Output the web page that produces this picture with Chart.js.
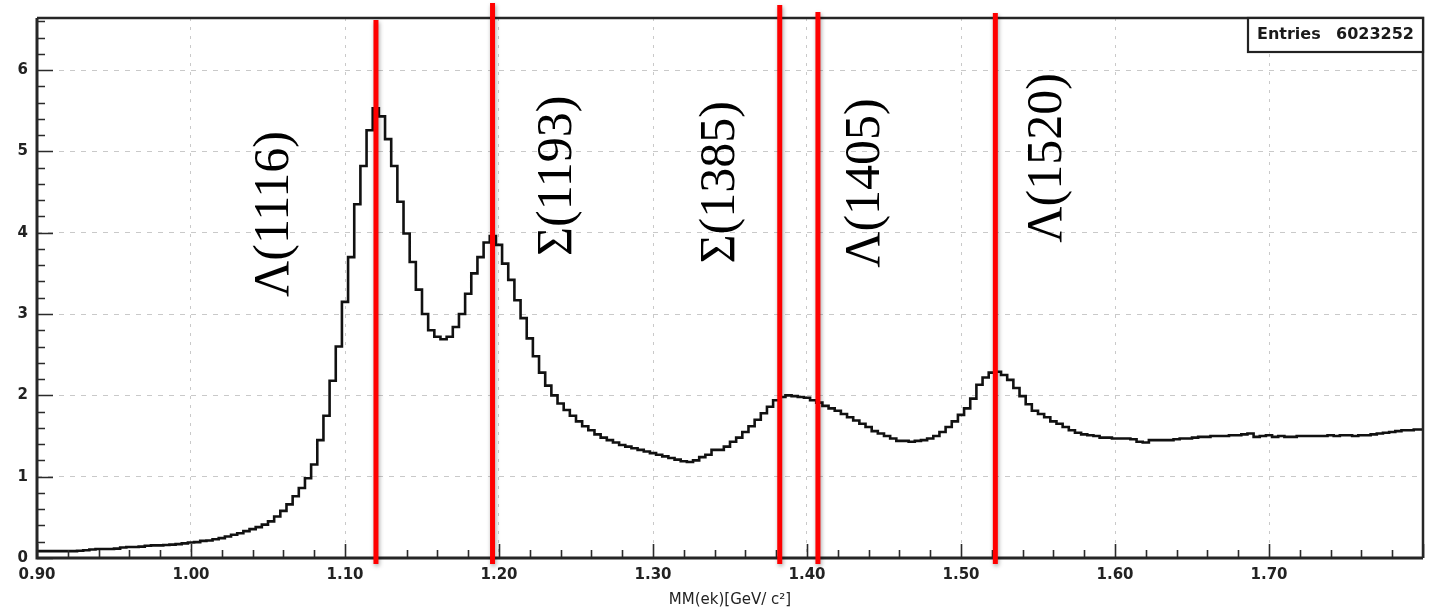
<!DOCTYPE html>
<html>
<head>
<meta charset="utf-8">
<script src="https://cdn.jsdelivr.net/npm/chart.js@4.4.1/dist/chart.umd.min.js"></script>
<style>
html,body{margin:0;padding:0;background:#fff;}
#wrap{width:1435px;height:612px;position:relative;}
</style>
</head>
<body>
<div id="wrap"><canvas id="c" width="1435" height="612"></canvas></div>
<script>
// ---- data ----
const binStart = 0.900;   // centre of first bin (GeV/c^2)
const binWidth = 0.004;   // bin width (GeV/c^2)
const counts = [
  0.085,0.085,0.085,0.085,0.085,0.085,0.085,0.09,0.095,0.105,
  0.11,0.11,0.11,0.115,0.13,0.135,0.135,0.14,0.15,0.155,
  0.155,0.16,0.165,0.17,0.18,0.19,0.195,0.21,0.215,0.23,
  0.245,0.265,0.285,0.305,0.33,0.355,0.38,0.41,0.45,0.51,
  0.58,0.66,0.76,0.86,0.98,1.15,1.45,1.75,2.18,2.60,
  3.15,3.70,4.35,4.82,5.26,5.53,5.43,5.15,4.82,4.38,
  3.99,3.64,3.30,3.00,2.80,2.72,2.69,2.72,2.84,3.00,
  3.25,3.50,3.70,3.88,3.96,3.85,3.62,3.42,3.17,2.95,
  2.70,2.48,2.28,2.12,2.00,1.90,1.82,1.75,1.68,1.62,
  1.57,1.52,1.48,1.45,1.42,1.39,1.37,1.35,1.33,1.31,
  1.29,1.27,1.25,1.23,1.21,1.19,1.18,1.20,1.24,1.27,
  1.33,1.33,1.37,1.43,1.48,1.55,1.62,1.70,1.78,1.86,
  1.94,1.98,2.00,1.99,1.98,1.97,1.94,1.91,1.87,1.84,
  1.81,1.77,1.73,1.69,1.65,1.61,1.56,1.53,1.50,1.47,
  1.44,1.44,1.43,1.44,1.45,1.47,1.50,1.55,1.61,1.68,
  1.76,1.84,1.96,2.13,2.22,2.28,2.29,2.25,2.19,2.09,
  1.99,1.89,1.81,1.77,1.73,1.68,1.65,1.61,1.57,1.54,
  1.52,1.51,1.50,1.48,1.48,1.47,1.47,1.47,1.46,1.43,
  1.42,1.45,1.45,1.45,1.45,1.46,1.47,1.47,1.48,1.49,
  1.49,1.50,1.50,1.50,1.51,1.51,1.52,1.53,1.49,1.50,
  1.51,1.49,1.50,1.49,1.49,1.50,1.50,1.50,1.50,1.50,
  1.51,1.50,1.51,1.51,1.50,1.51,1.51,1.52,1.53,1.54,
  1.55,1.56,1.57,1.57,1.58,1.58
];
const xTickLabels = ['0.90','1.00','1.10','1.20','1.30','1.40','1.50','1.60','1.70'];
const yTickLabels = ['0','1','2','3','4','5','6'];
const markerMasses = [1.1201, 1.1958, 1.3823, 1.4071, 1.5223];
const markerLabels = ['Λ(1116)','Σ(1193)','Σ(1385)','Λ(1405)','Λ(1520)'];
const xTitle = 'MM(ek)[GeV/ c²]';
const entriesLabel = 'Entries';
const entriesValue = '6023252';

// ---- build chart ----
const points = counts.map((v, i) => ({ x: binStart + i * binWidth, y: v }));

const decor = {
  id: 'decor',
  afterDatasetsDraw(chart, args, o) {
    const { ctx, chartArea: a, scales: { x, y } } = chart;
    ctx.save();
    // inward ticks
    ctx.strokeStyle = '#2b2b2b';
    ctx.lineWidth = 1.6;
    ctx.beginPath();
    for (let i = 0; i <= 45; i++) {
      const px = Math.round(x.getPixelForValue(0.9 + i * 0.02)) + 0.5;
      const len = i % 5 === 0 ? o.majorX : o.minorX;
      ctx.moveTo(px, a.bottom); ctx.lineTo(px, a.bottom - len);
    }
    for (let i = 0; i <= 33; i++) {
      const py = Math.round(y.getPixelForValue(i * 0.2)) + 0.5;
      const len = i % 5 === 0 ? o.majorY : o.minorY;
      ctx.moveTo(a.left, py); ctx.lineTo(a.left + len, py);
    }
    ctx.stroke();
    // frame
    ctx.strokeStyle = '#262626';
    ctx.lineWidth = 3;
    ctx.beginPath();
    ctx.moveTo(a.left, a.top); ctx.lineTo(a.left, a.bottom); ctx.lineTo(a.right, a.bottom);
    ctx.stroke();
    ctx.lineWidth = 2.5;
    ctx.beginPath();
    ctx.moveTo(a.left, a.top); ctx.lineTo(a.right, a.top); ctx.lineTo(a.right, a.bottom);
    ctx.stroke();
    // entries box
    const bw = o.boxW, bh = o.boxH;
    ctx.fillStyle = '#fff';
    ctx.fillRect(a.right - bw, a.top, bw, bh);
    ctx.lineWidth = 2.2;
    ctx.strokeStyle = '#222';
    ctx.strokeRect(a.right - bw, a.top, bw, bh);
    ctx.fillStyle = '#1a1a1a';
    ctx.font = 'bold 16px "DejaVu Sans"';
    ctx.textBaseline = 'middle';
    ctx.textAlign = 'left';
    ctx.fillText(entriesLabel, a.right - bw + 9, a.top + bh / 2);
    ctx.textAlign = 'right';
    ctx.fillText(entriesValue, a.right - 9, a.top + bh / 2);
    // red marker lines
    ctx.strokeStyle = '#ff0000';
    ctx.lineWidth = 5;
    ctx.shadowColor = 'rgba(0,0,0,0.35)';
    ctx.shadowBlur = 4;
    ctx.shadowOffsetX = 1;
    ctx.shadowOffsetY = 2;
    markerMasses.forEach((m, i) => {
      const px = x.getPixelForValue(m);
      ctx.beginPath();
      ctx.moveTo(px, a.top + o.lineTops[i]);
      ctx.lineTo(px, a.bottom + o.lineBottom);
      ctx.stroke();
    });
    ctx.shadowColor = 'transparent';
    // rotated labels
    ctx.fillStyle = '#000';
    ctx.font = o.labelFont;
    ctx.textAlign = 'center';
    ctx.textBaseline = 'middle';
    markerLabels.forEach((t, i) => {
      const p = o.labelAnchors[i];
      ctx.save();
      ctx.translate(x.getPixelForValue(p[0]), y.getPixelForValue(p[1]));
      ctx.rotate(-Math.PI / 2);
      ctx.fillText(t, 0, 0);
      ctx.restore();
    });
    ctx.restore();
  }
};

new Chart(document.getElementById('c'), {
  type: 'line',
  data: {
    datasets: [{
      data: points,
      stepped: 'middle',
      borderColor: '#111',
      borderWidth: 2.6,
      pointRadius: 0,
      fill: false
    }]
  },
  options: {
    responsive: false,
    animation: false,
    devicePixelRatio: 1,
    layout: { padding: { top: 18, right: 12, left: 0, bottom: 0 } },
    plugins: {
      legend: { display: false },
      tooltip: { enabled: false },
      decor: {
        majorX: 14, minorX: 8, majorY: 16, minorY: 8,
        boxW: 175, boxH: 34,
        lineTops: [2, -15, -13, -6, -5],
        lineBottom: 6,
        labelFont: '50px "Liberation Serif"',
        labelAnchors: [[1.0546, 4.23], [1.2385, 4.70], [1.3438, 4.62], [1.4380, 4.61], [1.5563, 4.92]]
      }
    },
    scales: {
      x: {
        type: 'linear',
        min: 0.9, max: 1.8,
        afterBuildTicks: s => { s.ticks = xTickLabels.map(t => ({ value: parseFloat(t) })); },
        afterFit: s => { s.height = 54; },
        ticks: {
          callback: v => v.toFixed(2),
          font: { family: 'DejaVu Sans', weight: 'bold', size: 15 },
          color: '#222',
          padding: 8,
          maxRotation: 0,
          autoSkip: false
        },
        grid: { drawTicks: false, color: '#c9c9c9', lineWidth: 1 },
        border: { display: false, dash: [3, 6] },
        title: {
          display: true,
          text: xTitle,
          font: { family: 'DejaVu Sans', size: 15 },
          color: '#222',
          padding: { top: 0, bottom: 3 }
        }
      },
      y: {
        min: 0, max: 6.64,
        afterBuildTicks: s => { s.ticks = yTickLabels.map(t => ({ value: parseFloat(t) })); },
        afterFit: s => { s.width = 37; },
        ticks: {
          font: { family: 'DejaVu Sans', weight: 'bold', size: 15 },
          color: '#222',
          padding: 9
        },
        grid: { drawTicks: false, color: '#c9c9c9', lineWidth: 1 },
        border: { display: false, dash: [5, 6] }
      }
    }
  },
  plugins: [decor]
});
</script>
</body>
</html>
